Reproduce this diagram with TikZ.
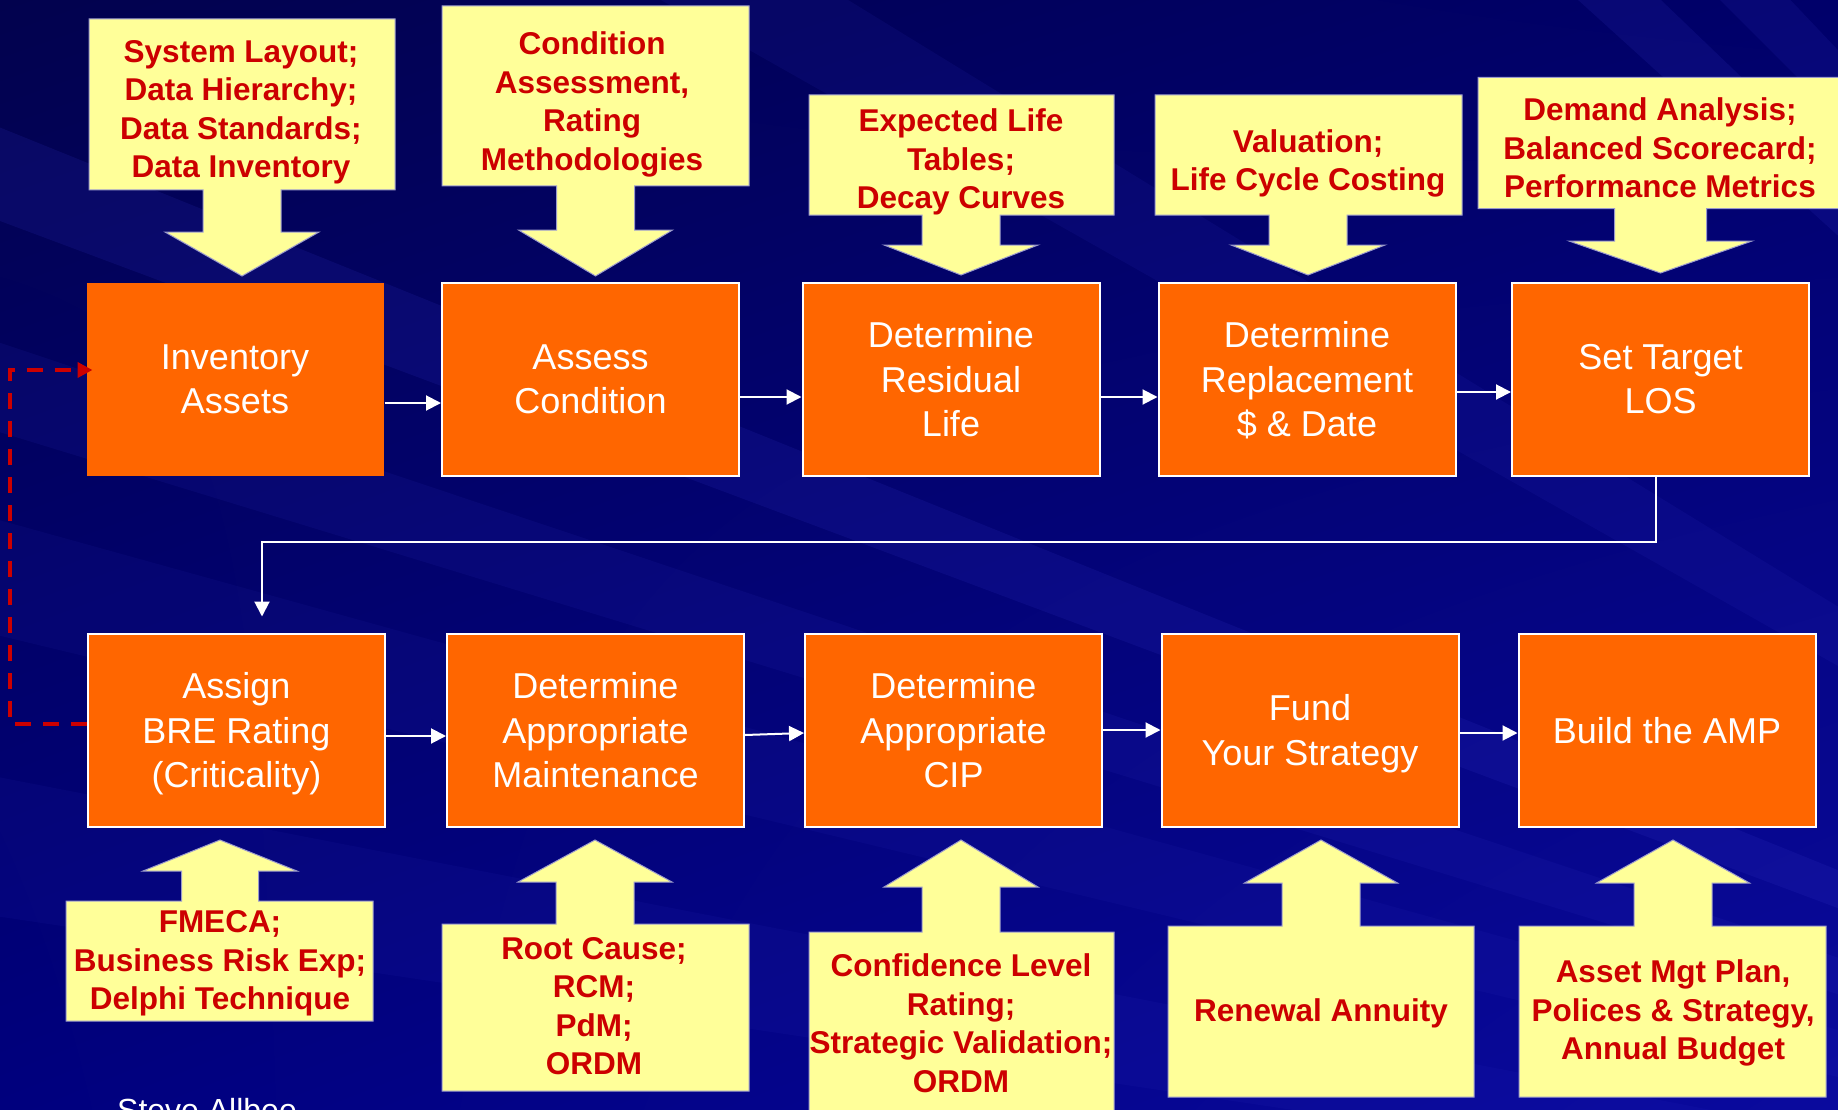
\documentclass[tikz,border=0pt]{standalone}
\usepackage{fontspec}
\setmainfont{Liberation Sans}
\usetikzlibrary{arrows.meta,shadings}

\definecolor{navyA}{HTML}{02024E}
\definecolor{navyB}{HTML}{00006A}
\definecolor{navyC}{HTML}{00007E}
\definecolor{navyD}{HTML}{0A0A9E}
\definecolor{ray}{HTML}{3A3AD0}
\definecolor{boxorange}{HTML}{FF6600}
\definecolor{noteyellow}{HTML}{FFFF99}
\definecolor{notered}{HTML}{CC0000}
\definecolor{noteedge}{HTML}{9A9ACC}

\tikzset{
  stepbox/.style={rectangle, fill=boxorange, draw=white, line width=2pt,
    minimum width=297pt, minimum height=193pt, inner sep=0pt, text=white,
    align=center, text depth=-2pt, font=\fontsize{36}{44.5}\selectfont},
  notetext/.style={inner sep=0pt, text=notered, align=center, text depth=0pt,
    font=\bfseries\fontsize{31.5}{38.5}\selectfont},
  flow/.style={draw=white, line width=2pt, -{Triangle[length=15pt,width=15pt]}},
  loopback/.style={draw=notered, line width=4pt, dash pattern=on 16pt off 12pt,
    -{Triangle[length=15pt,width=15pt]}},
  notebg/.style={fill=noteyellow, draw=noteedge, line width=1pt},
}

% a pale ray fanning out from the focus point, between two elevations
\newcommand\lightray[3]{%
  \fill[ray, fill opacity=#3] (focus) -- ([shift={(180+#1:4200)}]focus)
    -- ([shift={(180+#2:4200)}]focus) -- cycle;}

% yellow note with a block arrow:
% #1 left, #2 right, #3 far edge y, #4 edge y at the stem, #5 centre x,
% #6 stem half width, #7 head half width, #8 head base y, #9 tip y
\newcommand\blockcallout[9]{%
  \path[notebg] (#1,#3) -- (#2,#3) -- (#2,#4) -- ({#5+#6},#4) -- ({#5+#6},#8)
    -- ({#5+#7},#8) -- (#5,#9) -- ({#5-#7},#8) -- ({#5-#6},#8) -- ({#5-#6},#4)
    -- (#1,#4) -- cycle;}

\begin{document}
\begin{tikzpicture}[x=1pt,y=-1pt]
\useasboundingbox (0,0) rectangle (1838,1110);
\clip (0,0) rectangle (1838,1110);

% backdrop
\shade[upper left=navyA, upper right=navyB, lower left=navyC, lower right=navyD]
  (0,0) rectangle (1838,1110);
\coordinate (focus) at (3100,1380);
\lightray{42.2}{43.8}{.14}
\lightray{45}{46.5}{.12}
\lightray{29.5}{31.5}{.10}
\lightray{20.5}{22}{.14}
\lightray{17}{18.5}{.10}
\lightray{13.5}{15.5}{.08}
\lightray{8.5}{11}{.08}

% inputs from above
\blockcallout{89}{395}{19}{190}{242}{39}{77}{232}{276}
\blockcallout{442}{749}{6}{186}{595.5}{39}{77}{230}{276}
\blockcallout{809}{1114}{95}{215}{961}{39}{77}{245}{275}
\blockcallout{1155}{1462}{95}{215}{1308}{39}{77}{245}{275}
\blockcallout{1478}{1845}{77.5}{208.5}{1660.5}{46}{91.5}{241}{273}
% inputs from below
\blockcallout{66}{373}{1021}{901}{220}{38.5}{77}{871}{840}
\blockcallout{442}{749}{1091}{924}{595}{39}{77}{882}{840}
\blockcallout{809}{1114}{1120}{932}{961}{39}{77}{887}{840}
\blockcallout{1168}{1474}{1097}{926}{1321}{39}{76.5}{883}{840}
\blockcallout{1519}{1826}{1097}{926}{1673}{39}{76.5}{883}{840}

\node[notetext] (n1) at (241,109) {System Layout;\\Data Hierarchy;\\Data Standards;\\Data Inventory};
\node[notetext] (n2) at (592,101) {Condition\\Assessment,\\Rating\\Methodologies};
\node[notetext] (n3) at (961,159) {Expected Life\\Tables;\\Decay Curves};
\node[notetext] (n4) at (1308,160) {Valuation;\\Life Cycle Costing};
\node[notetext] (n5) at (1660,148) {Demand Analysis;\\Balanced Scorecard;\\Performance Metrics};
\node[notetext] (n6) at (220,960) {FMECA;\\Business Risk Exp;\\Delphi Technique};
\node[notetext] (n7) at (594,1006) {Root Cause;\\RCM;\\PdM;\\ORDM};
\node[notetext] (n8) at (961,1023) {Confidence Level\\Rating;\\Strategic Validation;\\ORDM};
\node[notetext] (n9) at (1321,1010) {Renewal Annuity};
\node[notetext] (n10) at (1673,1010) {Asset Mgt Plan,\\Polices \& Strategy,\\Annual Budget};

% process steps
\node[stepbox, draw=none] (b1) at (235,379) {Inventory\\Assets};
\node[stepbox] (b2) at (590.5,379) {Assess\\Condition};
\node[stepbox] (b3) at (951,379) {Determine\\Residual\\Life};
\node[stepbox] (b4) at (1307,379) {Determine\\Replacement\\\$ \& Date};
\node[stepbox] (b5) at (1660.5,379) {Set Target\\LOS};
\node[stepbox] (b6) at (236.5,730) {Assign\\BRE Rating\\(Criticality)};
\node[stepbox] (b7) at (595.5,730) {Determine\\Appropriate\\Maintenance};
\node[stepbox] (b8) at (953.5,730) {Determine\\Appropriate\\CIP};
\node[stepbox] (b9) at (1310,730) {Fund\\Your Strategy};
\node[stepbox] (b10) at (1667,730) {Build the AMP};

% flow between steps
\draw[flow] ([yshift=-24pt]b1.east) -- ([yshift=-24pt]b2.west);
\draw[flow] ([yshift=-18pt]b2.east) -- ([yshift=-18pt]b3.west);
\draw[flow] ([yshift=-18pt]b3.east) -- ([yshift=-18pt]b4.west);
\draw[flow] ([yshift=-13pt]b4.east) -- ([yshift=-13pt]b5.west);
\draw[flow, shorten >=16pt] ([xshift=-4.5pt]b5.south) -- ++(0,65) -| ([xshift=25.5pt]b6.north);
\draw[flow] ([yshift=-6pt]b6.east) -- ([yshift=-6pt]b7.west);
\draw[flow] ([yshift=-5pt]b7.east) -- ([yshift=-3pt]b8.west);
\draw[flow] (b8.east) -- (b9.west);
\draw[flow] ([yshift=-3pt]b9.east) -- ([yshift=-3pt]b10.west);

% feedback loop
\draw[loopback] ([yshift=6.5pt]b6.west) -- ++(-77.5,0) |- ([xshift=7pt,yshift=9pt]b1.west);

\node[anchor=base west, inner sep=0pt, text=white, font=\fontsize{32}{38}\selectfont]
  (author) at (117,1121) {Steve Allbee};
\end{tikzpicture}
\end{document}
